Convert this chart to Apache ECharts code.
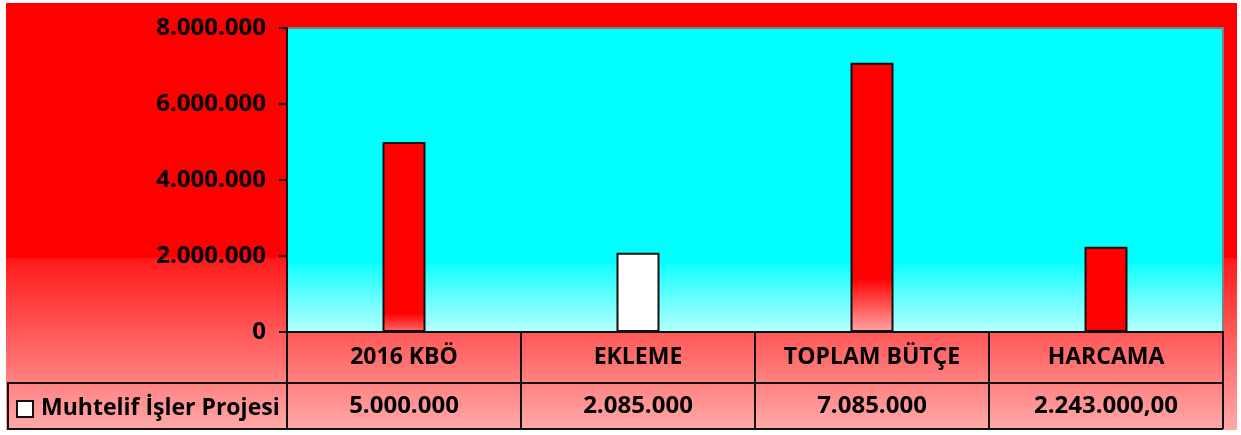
<!DOCTYPE html>
<html lang="tr">
<head>
    <meta charset="UTF-8">
    <title>Muhtelif İşler Projesi</title>
    <style>
        * {
            margin: 0;
            padding: 0;
        }

        body {
            background: #fff;
            width: 1241px;
            height: 435px;
            position: relative;
        }

        #myEcharts {
            position: absolute;
            left: 6px;
            top: 3px;
            width: 1231px;
            height: 427px;
        }
    </style>
</head>
<body>
    <div id="myEcharts"></div>
    <script src="https://cdn.jsdelivr.net/npm/echarts@6/dist/echarts.min.js"></script>
    <script>
        // veriler
        var seriesName = "Muhtelif İşler Projesi";
        var categories = ["2016 KBÖ", "EKLEME", "TOPLAM BÜTÇE", "HARCAMA"];
        var values = [5000000, 2085000, 7085000, 2243000];
        var decimals = [0, 0, 0, 2];   // tablodaki ondalık basamak
        var yTicks = [0, 2000000, 4000000, 6000000, 8000000];

        var font = "Open Sans";
        var fontSize = 23;
        var numSize = 24;

        // grid (div içinde)
        var gridLeft = 281, gridTop = 25, gridRight = 14, gridBottom = 98;
        var chartW = 1231, chartH = 427;
        var tableRowY = 380, tableBottom = 426, tableLeft = 2;

        function fmt(v, dec) {
            var parts = v.toFixed(dec || 0).split(".");
            var s = parts[0].replace(/\B(?=(\d{3})+(?!\d))/g, ".");
            if (parts.length > 1) s += "," + parts[1];
            return s;
        }

        function grad(stops) {
            return new echarts.graphic.LinearGradient(0, 0, 0, 1, stops);
        }

        // çubuk renkleri
        var barColors = [
            grad([{ offset: 0, color: "#ff0000" }, { offset: 0.9, color: "#ff0000" }, { offset: 1, color: "#ff6a6a" }]),
            "#ffffff",
            grad([{ offset: 0, color: "#ff0000" }, { offset: 0.8, color: "#ff0000" }, { offset: 1, color: "#ffa6a6" }]),
            "#ff0000"
        ];

        var myEcharts = echarts.init(document.getElementById("myEcharts"));
        var axisY0 = chartH - gridBottom;

        var option = {
            animation: false,
            backgroundColor: grad([
                { offset: 0, color: "#ff0000" },
                { offset: 0.595, color: "#ff0000" },
                { offset: 0.6, color: "#ff1a1a" },
                { offset: 1, color: "#ffaaaa" }
            ]),
            textStyle: { fontFamily: font, fontWeight: "bold", color: "#000" },
            grid: {
                left: gridLeft,
                top: gridTop,
                right: gridRight,
                bottom: gridBottom,
                show: true,
                borderColor: "#7f7f7f",
                borderWidth: 2,
                backgroundColor: grad([
                    { offset: 0, color: "#00ffff" },
                    { offset: 0.77, color: "#00ffff" },
                    { offset: 0.78, color: "#18ffff" },
                    { offset: 1, color: "#b8ffff" }
                ])
            },
            xAxis: {
                type: "category",
                data: categories,
                axisLine: { lineStyle: { color: "#111", width: 2 } },
                axisTick: {
                    show: true,
                    length: tableBottom - axisY0,
                    lineStyle: { color: "#111", width: 2 }
                },
                axisLabel: {
                    interval: 0,
                    margin: 1,
                    color: "#000",
                    formatter: function (val, idx) {
                        return "{c|" + val + "}\n{v|" + fmt(values[idx], decimals[idx]) + "}";
                    },
                    rich: {
                        c: { fontFamily: font, fontWeight: "bold", fontSize: fontSize, lineHeight: 49, color: "#000" },
                        v: { fontFamily: font, fontWeight: "bold", fontSize: numSize, lineHeight: 49, color: "#000" }
                    }
                }
            },
            yAxis: {
                type: "value",
                min: yTicks[0],
                max: yTicks[yTicks.length - 1],
                interval: yTicks[1] - yTicks[0],
                splitLine: { show: false },
                axisLine: { show: true, lineStyle: { color: "#111", width: 2 } },
                axisTick: { show: true, length: 8, lineStyle: { color: "#111", width: 2 } },
                axisLabel: {
                    margin: 21,
                    fontFamily: font,
                    fontWeight: "bold",
                    fontSize: numSize,
                    color: "#000",
                    formatter: function (v) { return fmt(v, 0); }
                }
            },
            series: [{
                name: seriesName,
                type: "bar",
                barWidth: 43,
                data: values.map(function (v, i) {
                    return { value: v, itemStyle: { color: barColors[i] } };
                }),
                itemStyle: { borderColor: "#111", borderWidth: 2 }
            }],
            graphic: [
                // tablo çizgileri
                {
                    type: "polyline",
                    shape: {
                        points: [[chartW - gridRight, tableRowY], [tableLeft, tableRowY],
                            [tableLeft, tableBottom], [chartW - gridRight, tableBottom]]
                    },
                    style: { stroke: "#111", lineWidth: 2, fill: null }
                },
                // lejant
                {
                    type: "rect",
                    shape: { x: 11, y: 398, width: 16, height: 16 },
                    style: { fill: "#fff", stroke: "#111", lineWidth: 2 }
                },
                {
                    type: "text",
                    x: 35,
                    y: 405,
                    style: {
                        text: seriesName,
                        fontFamily: font,
                        fontWeight: "bold",
                        fontSize: fontSize,
                        fill: "#000",
                        verticalAlign: "middle"
                    }
                }
            ]
        };

        myEcharts.setOption(option);
    </script>
</body>
</html>
